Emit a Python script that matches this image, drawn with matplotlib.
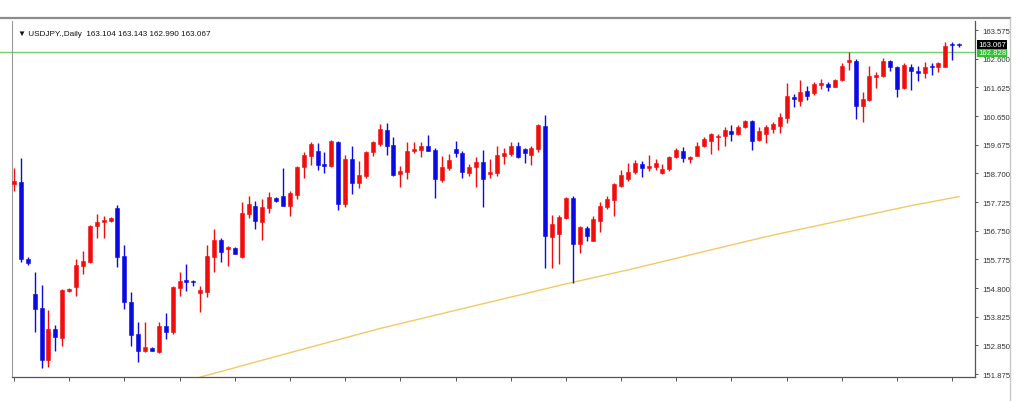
import matplotlib
matplotlib.use("Agg")
import matplotlib.pyplot as plt
from matplotlib.lines import Line2D
import matplotlib.transforms as mtransforms

# ---------------- data ----------------
opens = [158.34, 158.42, 155.80, 154.60, 154.11, 152.36, 153.41, 153.10, 154.71, 154.82,
         155.54, 155.69, 156.90, 157.06, 157.08, 157.52, 155.88, 154.33, 153.24, 152.67,
         152.76, 152.61, 153.52, 153.31, 154.79, 155.06, 155.05, 154.63, 154.67, 155.84,
         156.44, 156.13, 156.17, 155.84, 157.32, 157.58, 157.06, 157.51, 157.87, 157.94,
         157.60, 157.96, 158.91, 159.28, 159.45, 159.01, 158.96, 159.78, 157.66, 159.19,
         158.37, 158.62, 159.42, 159.70, 160.17, 159.66, 158.68, 158.74, 159.45, 159.50,
         159.64, 159.50, 158.48, 158.87, 159.53, 159.39, 158.71, 158.91, 159.10, 158.68,
         158.71, 159.30, 159.36, 159.62, 159.53, 159.33, 159.53, 160.32, 156.52, 156.64,
         157.17, 157.85, 156.30, 156.83, 156.41, 157.09, 157.55, 157.80, 158.28, 158.51,
         158.74, 159.02, 158.87, 158.91, 158.71, 158.85, 159.25, 159.47, 159.19, 159.30,
         159.62, 159.81, 159.93, 159.96, 160.13, 160.04, 160.27, 160.49, 159.83, 160.04,
         160.21, 160.32, 160.58, 161.31, 161.17, 161.49, 161.42, 161.72, 161.74, 161.65,
         161.88, 162.48, 162.51, 161.00, 161.20, 161.99, 162.02, 162.51, 162.31, 161.60,
         162.33, 162.19, 162.10, 162.33, 162.33, 162.33, 163.10, 163.104]
highs = [158.88, 159.22, 155.85, 155.33, 154.90, 154.05, 153.54, 154.77, 154.80, 155.79,
         156.07, 156.94, 157.32, 157.24, 157.23, 157.62, 156.26, 154.65, 153.63, 153.65,
         152.78, 153.65, 153.95, 154.88, 155.33, 155.62, 155.08, 154.88, 156.26, 156.81,
         156.49, 156.22, 156.19, 157.72, 157.92, 157.77, 157.83, 158.06, 157.89, 158.87,
         158.11, 158.96, 159.42, 159.76, 159.72, 159.42, 159.84, 159.81, 159.32, 159.62,
         159.13, 159.47, 159.81, 160.38, 160.41, 159.93, 158.96, 159.76, 159.78, 159.78,
         160.00, 159.55, 159.28, 159.36, 159.81, 159.47, 159.02, 159.25, 159.50, 159.19,
         159.62, 159.55, 159.78, 159.78, 159.55, 159.64, 160.38, 160.68, 157.28, 157.28,
         157.89, 157.92, 156.92, 156.92, 157.24, 157.72, 157.92, 158.37, 158.81, 159.04,
         159.16, 159.13, 159.32, 159.19, 159.02, 159.30, 159.55, 159.59, 159.30, 159.76,
         159.93, 160.07, 160.04, 160.27, 160.35, 160.35, 160.51, 160.51, 160.29, 160.35,
         160.44, 160.74, 161.76, 161.40, 161.88, 161.68, 161.80, 161.91, 161.80, 161.91,
         162.44, 162.82, 162.58, 161.46, 162.36, 162.14, 162.62, 162.56, 162.36, 162.44,
         162.42, 162.36, 162.48, 162.44, 162.48, 163.16, 163.16, 163.143]
lows = [158.10, 155.68, 155.58, 153.29, 152.07, 152.12, 152.67, 152.84, 154.68, 154.54,
        155.28, 155.65, 156.49, 156.49, 157.05, 155.50, 154.09, 152.84, 152.27, 152.64,
        152.66, 152.59, 153.07, 153.24, 154.54, 154.71, 154.88, 153.99, 154.48, 155.33,
        155.67, 155.54, 155.94, 155.82, 157.17, 156.81, 156.44, 157.35, 157.74, 157.59,
        157.24, 157.83, 158.53, 158.98, 158.82, 158.71, 158.91, 157.46, 157.55, 158.00,
        158.19, 158.53, 159.28, 159.62, 159.32, 158.62, 158.23, 158.51, 159.39, 159.25,
        159.45, 157.85, 158.42, 158.82, 159.25, 158.54, 158.62, 158.23, 157.55, 158.53,
        158.62, 159.02, 159.30, 159.21, 159.05, 159.00, 159.44, 155.47, 155.47, 155.62,
        157.15, 154.97, 155.99, 156.41, 156.39, 156.70, 157.49, 157.26, 158.23, 158.45,
        158.68, 158.57, 158.79, 158.82, 158.68, 158.79, 159.21, 159.08, 159.05, 159.28,
        159.59, 159.36, 159.49, 159.64, 159.79, 160.01, 160.24, 159.49, 159.81, 159.72,
        160.06, 160.06, 160.40, 160.95, 161.00, 161.20, 161.37, 161.57, 161.49, 161.63,
        161.83, 162.22, 160.55, 160.44, 161.17, 161.60, 161.97, 162.17, 161.28, 161.57,
        161.53, 161.85, 161.94, 162.06, 162.14, 162.31, 162.56, 162.990]
closes = [158.45, 155.79, 155.65, 154.09, 152.36, 153.41, 153.12, 154.74, 154.77, 155.58,
          155.73, 156.92, 157.06, 157.12, 157.19, 155.84, 154.31, 153.20, 152.67, 152.78,
          152.67, 153.52, 153.29, 154.82, 155.05, 155.01, 154.99, 154.74, 155.88, 156.44,
          156.01, 156.18, 155.96, 157.35, 157.66, 157.07, 157.55, 157.89, 157.75, 157.60,
          158.03, 158.91, 159.32, 159.70, 158.99, 158.94, 159.81, 157.66, 159.19, 158.37,
          158.64, 159.44, 159.78, 160.21, 159.64, 158.64, 158.79, 159.47, 159.53, 159.64,
          159.47, 158.51, 158.91, 159.16, 159.39, 158.74, 158.91, 159.08, 158.51, 158.76,
          159.32, 159.39, 159.62, 159.25, 159.39, 159.55, 160.36, 156.56, 156.98, 157.21,
          157.85, 156.30, 156.87, 156.58, 157.15, 157.60, 157.83, 158.34, 158.64, 158.76,
          159.05, 158.87, 158.94, 159.05, 158.85, 159.25, 159.50, 159.21, 159.25, 159.62,
          159.87, 160.04, 159.98, 160.19, 160.04, 160.29, 160.49, 159.81, 160.15, 160.27,
          160.38, 160.61, 161.34, 161.23, 161.46, 161.34, 161.74, 161.76, 161.63, 161.88,
          162.36, 162.56, 161.00, 161.23, 162.02, 162.06, 162.53, 162.31, 161.57, 162.39,
          162.19, 162.10, 162.33, 162.31, 162.44, 163.04, 163.06, 163.067]

ma_index = [27, 40, 53, 67, 80, 90, 100, 110, 120, 130, 137]
ma_values = [151.77, 152.60, 153.42, 154.21, 154.94, 155.47, 156.04, 156.60, 157.10, 157.60, 157.91]

ytick_values = [151.875, 152.850, 153.825, 154.800, 155.775, 156.750, 157.725,
                158.700, 159.675, 160.650, 161.625, 162.600, 163.575]
ytick_labels = ["151.875", "152.850", "153.825", "154.800", "155.775", "156.750", "157.725",
                "158.700", "159.675", "160.650", "161.625", "162.600", "163.575"]

header_text = "\u25BC USDJPY.,Daily  163.104 163.143 162.990 163.067"
level_price = 162.828
level_label = "162.828"
last_price = 163.067
last_label = "163.067"

# ---------------- figure ----------------
W, H = 1024, 402
fig = plt.figure(figsize=(W / 100, H / 100), dpi=100)
fig.patch.set_facecolor("white")

left_px, right_px, top_px, bottom_px = 12, 975, 22, 378
ax = fig.add_axes([left_px / W, 1 - bottom_px / H,
                   (right_px - left_px) / W, (bottom_px - top_px) / H])
ax.set_facecolor("white")

UP = "#f20d0d"
DOWN = "#0a0ae6"
n = len(opens)
xs = list(range(n))
colors = [UP if c >= o else DOWN for o, c in zip(opens, closes)]

ax.vlines(xs, lows, highs, colors=colors, linewidth=1.0, zorder=2)
bottoms = [min(o, c) for o, c in zip(opens, closes)]
heights = [max(abs(c - o), 0.03) for o, c in zip(opens, closes)]
ax.bar(xs, heights, bottom=bottoms, width=0.58, color=colors, edgecolor=colors,
       linewidth=0.4, zorder=3)

ax.plot(ma_index, ma_values, color="#f3c965", linewidth=1.0, zorder=1)
ax.axhline(level_price, color="#6fd36f", linewidth=1.0, zorder=1.5, clip_on=False,
           xmin=-0.02, xmax=1.0)

ax.set_xlim(-0.29, 139.3)
ax.set_ylim(151.773, 163.882)

ax.yaxis.tick_right()
ax.set_yticks(ytick_values)
ax.set_yticklabels(ytick_labels, fontsize=5.6, family=["Liberation Sans", "DejaVu Sans"],
                   color="#333333")
ax.tick_params(axis="y", direction="out", length=2.5, width=0.7, pad=3, colors="#555555",
               labelcolor="#333333")
ax.set_xticks(list(range(0, n + 1, 8)))
ax.set_xticklabels([])
ax.tick_params(axis="x", direction="out", length=3, width=0.7, colors="#555555")

ax.spines["top"].set_visible(False)
ax.spines["left"].set_color("#9a9a9a")
ax.spines["left"].set_linewidth(0.8)
ax.spines["right"].set_color("#555555")
ax.spines["right"].set_linewidth(0.9)
ax.spines["bottom"].set_color("#555555")
ax.spines["bottom"].set_linewidth(0.9)

# header
ax.text(0.006, 0.965, header_text, transform=ax.transAxes, fontsize=5.9,
        family=["Liberation Sans", "DejaVu Sans"], color="#111111", va="center", ha="left")

# price tags on right
trans = mtransforms.blended_transform_factory(ax.transAxes, ax.transData)
ax.text(1.003, level_price - 0.02, level_label, transform=trans, fontsize=5.6,
        family=["Liberation Sans", "DejaVu Sans"], color="white", va="center", ha="left",
        bbox=dict(boxstyle="square,pad=0.15", fc="#2ec42e", ec="none"), zorder=5)
ax.text(1.003, last_price + 0.01, last_label, transform=trans, fontsize=5.6,
        family=["Liberation Sans", "DejaVu Sans"], color="white", va="center", ha="left",
        bbox=dict(boxstyle="square,pad=0.15", fc="black", ec="none"), zorder=6)

# outer frame lines
fig.add_artist(Line2D([0, 1010 / W], [1 - 19 / H, 1 - 19 / H], color="#8c8c8c",
                      linewidth=1.6, transform=fig.transFigure))
fig.add_artist(Line2D([1010 / W, 1010 / W], [1 - 19 / H, 0], color="#c8c8c8",
                      linewidth=1.0, transform=fig.transFigure))

fig.savefig("out.png", dpi=100, facecolor="white")
